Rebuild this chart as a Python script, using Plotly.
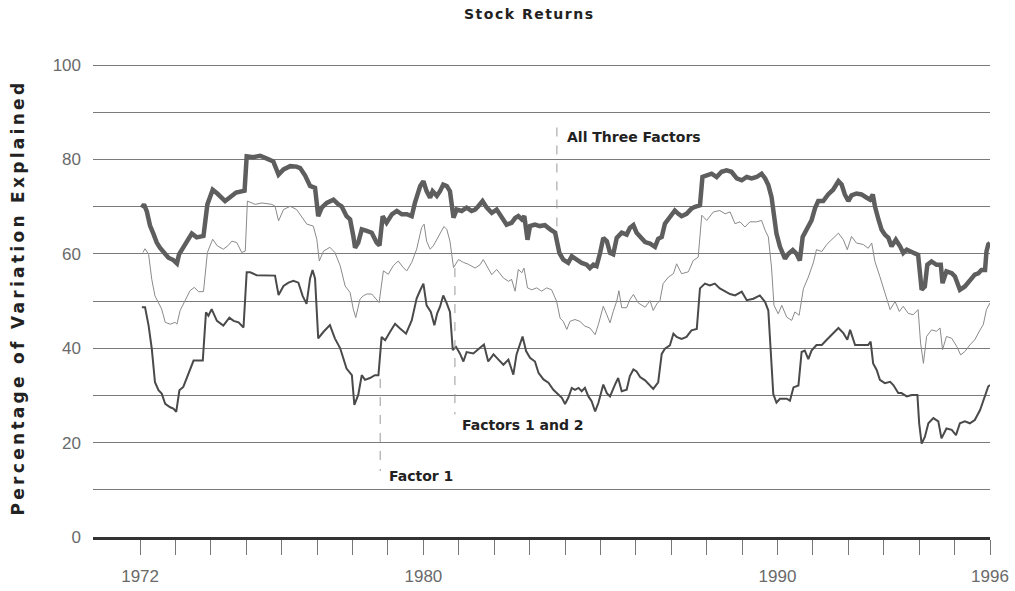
import plotly.graph_objects as go

# ---------------- data ----------------
all_three_years = [1972.05, 1972.11, 1972.19, 1972.28, 1972.38, 1972.47, 1972.56, 1972.66, 1972.80, 1972.94,
    1973.04, 1973.10, 1973.21, 1973.34, 1973.46, 1973.60, 1973.79, 1973.90, 1974.05, 1974.18,
    1974.40, 1974.54, 1974.71, 1974.95, 1975.01, 1975.20, 1975.39, 1975.58, 1975.76, 1975.91,
    1976.05, 1976.24, 1976.42, 1976.52, 1976.66, 1976.80, 1976.94, 1977.03, 1977.13, 1977.27,
    1977.46, 1977.60, 1977.69, 1977.83, 1977.93, 1978.02, 1978.07, 1978.16, 1978.26, 1978.40,
    1978.54, 1978.68, 1978.76, 1978.85, 1978.96, 1979.11, 1979.25, 1979.39, 1979.53, 1979.67,
    1979.76, 1979.91, 1980.00, 1980.09, 1980.19, 1980.26, 1980.38, 1980.47, 1980.56, 1980.66,
    1980.75, 1980.85, 1980.94, 1981.08, 1981.22, 1981.36, 1981.46, 1981.55, 1981.67, 1981.79,
    1981.93, 1982.07, 1982.21, 1982.35, 1982.49, 1982.59, 1982.68, 1982.78, 1982.85, 1982.94,
    1983.01, 1983.15, 1983.29, 1983.43, 1983.58, 1983.72, 1983.84, 1983.95, 1984.09, 1984.19,
    1984.33, 1984.47, 1984.61, 1984.70, 1984.80, 1984.89, 1984.99, 1985.08, 1985.18, 1985.27,
    1985.36, 1985.46, 1985.60, 1985.74, 1985.83, 1985.93, 1986.02, 1986.12, 1986.26, 1986.40,
    1986.54, 1986.63, 1986.73, 1986.82, 1986.96, 1987.10, 1987.20, 1987.29, 1987.43, 1987.57,
    1987.67, 1987.81, 1987.88, 1988.00, 1988.14, 1988.28, 1988.42, 1988.56, 1988.70, 1988.85,
    1988.99, 1989.13, 1989.27, 1989.41, 1989.55, 1989.65, 1989.74, 1989.83, 1989.88, 1989.97,
    1990.07, 1990.21, 1990.30, 1990.43, 1990.54, 1990.63, 1990.71, 1990.82, 1990.96, 1991.06,
    1991.15, 1991.29, 1991.43, 1991.57, 1991.72, 1991.81, 1991.90, 1992.00, 1992.09, 1992.23,
    1992.37, 1992.52, 1992.61, 1992.69, 1992.75, 1992.85, 1992.94, 1993.03, 1993.13, 1993.22,
    1993.34, 1993.46, 1993.55, 1993.65, 1993.74, 1993.85, 1993.97, 1994.04, 1994.07, 1994.16,
    1994.23, 1994.35, 1994.49, 1994.61, 1994.66, 1994.77, 1994.92, 1995.01, 1995.15, 1995.29,
    1995.43, 1995.57, 1995.67, 1995.76, 1995.86, 1995.90, 1995.95, 1996.00]
all_three_vals = [69.8, 70.5, 69.0, 66.0, 64.2, 62.4, 61.3, 60.3, 59.2, 58.7,
    58.0, 59.9, 61.2, 63.0, 64.3, 63.5, 63.8, 70.5, 73.6, 72.8,
    71.2, 72.0, 73.0, 73.4, 80.7, 80.5, 80.8, 80.2, 79.6, 76.8,
    77.9, 78.6, 78.5, 78.2, 76.6, 74.4, 74.0, 68.0, 69.8, 70.8,
    71.5, 70.5, 70.1, 68.0, 67.3, 63.8, 61.3, 62.4, 65.2, 64.9,
    64.5, 62.4, 61.8, 68.0, 66.6, 68.4, 69.1, 68.4, 68.4, 68.0,
    70.8, 74.4, 75.4, 73.3, 71.9, 73.3, 72.3, 73.3, 74.7, 74.4,
    73.3, 67.7, 69.4, 69.1, 69.8, 69.1, 69.4, 70.1, 71.2, 69.8,
    68.7, 69.4, 67.6, 66.2, 66.6, 67.6, 68.0, 67.3, 68.0, 63.0,
    65.9, 66.2, 65.9, 66.1, 65.2, 64.5, 60.2, 58.8, 58.1, 59.5,
    58.8, 58.1, 57.7, 57.0, 57.7, 57.4, 60.2, 63.4, 62.7, 60.2,
    59.9, 63.4, 64.5, 64.1, 65.5, 66.1, 64.5, 63.6, 62.5, 62.2,
    61.5, 63.2, 63.6, 66.4, 67.8, 69.2, 68.5, 68.0, 68.5, 69.6,
    70.0, 70.3, 76.3, 76.7, 77.0, 76.3, 77.4, 77.7, 77.4, 76.0,
    75.6, 76.3, 76.0, 76.3, 77.0, 76.0, 74.6, 72.1, 69.2, 64.3,
    61.5, 59.0, 60.0, 60.8, 60.0, 58.6, 63.6, 65.0, 67.1, 69.7,
    71.2, 71.2, 72.6, 73.6, 75.4, 74.7, 72.6, 71.2, 72.4, 72.8,
    72.6, 71.9, 71.5, 72.6, 70.1, 67.3, 65.1, 64.1, 63.4, 61.6,
    63.0, 61.6, 60.2, 60.9, 60.5, 60.2, 59.8, 55.2, 52.4, 53.1,
    57.7, 58.4, 57.7, 57.7, 53.8, 56.3, 55.9, 55.2, 52.4, 53.1,
    54.5, 55.6, 55.9, 56.6, 56.6, 60.5, 62.0, 62.3]

factors12_years = [1972.08, 1972.14, 1972.24, 1972.33, 1972.42, 1972.52, 1972.61, 1972.71, 1972.85, 1972.99,
    1973.04, 1973.13, 1973.27, 1973.41, 1973.53, 1973.65, 1973.79, 1973.90, 1974.05, 1974.18,
    1974.35, 1974.49, 1974.59, 1974.73, 1974.87, 1974.97, 1975.03, 1975.25, 1975.44, 1975.72,
    1975.81, 1975.91, 1976.05, 1976.24, 1976.42, 1976.71, 1976.89, 1976.99, 1977.06, 1977.18,
    1977.36, 1977.50, 1977.65, 1977.79, 1977.93, 1978.02, 1978.09, 1978.21, 1978.30, 1978.40,
    1978.54, 1978.63, 1978.75, 1978.87, 1979.01, 1979.15, 1979.29, 1979.43, 1979.53, 1979.67,
    1979.81, 1979.95, 1980.02, 1980.09, 1980.19, 1980.28, 1980.39, 1980.49, 1980.58, 1980.66,
    1980.75, 1980.85, 1980.99, 1981.13, 1981.27, 1981.46, 1981.60, 1981.69, 1981.79, 1981.93,
    1982.07, 1982.26, 1982.40, 1982.49, 1982.59, 1982.68, 1982.78, 1982.84, 1982.94, 1983.06,
    1983.20, 1983.34, 1983.48, 1983.62, 1983.76, 1983.86, 1983.95, 1984.05, 1984.14, 1984.28,
    1984.42, 1984.56, 1984.70, 1984.85, 1984.94, 1985.08, 1985.18, 1985.27, 1985.36, 1985.46,
    1985.52, 1985.60, 1985.74, 1985.83, 1985.93, 1986.07, 1986.26, 1986.40, 1986.49, 1986.59,
    1986.68, 1986.77, 1986.92, 1987.06, 1987.15, 1987.29, 1987.48, 1987.62, 1987.76, 1987.86,
    1988.00, 1988.19, 1988.37, 1988.52, 1988.66, 1988.80, 1988.94, 1989.08, 1989.22, 1989.41,
    1989.55, 1989.65, 1989.74, 1989.83, 1989.90, 1990.02, 1990.12, 1990.26, 1990.40, 1990.49,
    1990.61, 1990.73, 1990.87, 1991.01, 1991.10, 1991.25, 1991.39, 1991.53, 1991.72, 1991.86,
    1991.97, 1992.09, 1992.23, 1992.42, 1992.56, 1992.66, 1992.75, 1992.89, 1993.03, 1993.18,
    1993.32, 1993.44, 1993.55, 1993.69, 1993.83, 1993.97, 1994.04, 1994.12, 1994.21, 1994.35,
    1994.49, 1994.59, 1994.66, 1994.77, 1994.92, 1995.06, 1995.17, 1995.29, 1995.43, 1995.57,
    1995.72, 1995.81, 1995.90, 1996.00]
factors12_vals = [60.3, 61.1, 59.9, 54.6, 51.1, 49.7, 48.3, 45.5, 45.1, 45.5,
    45.1, 48.0, 50.1, 52.2, 52.9, 52.0, 52.0, 60.3, 63.1, 61.7,
    61.0, 61.8, 62.7, 62.4, 60.3, 60.6, 71.2, 70.5, 70.8, 70.5,
    70.1, 67.0, 69.4, 70.1, 69.4, 66.3, 65.9, 63.1, 58.5, 60.6,
    61.4, 60.3, 57.5, 53.2, 51.8, 48.3, 46.5, 50.4, 51.1, 51.5,
    51.5, 50.8, 49.7, 56.4, 55.7, 57.5, 58.5, 57.1, 56.4, 58.2,
    61.0, 65.6, 66.3, 62.7, 61.0, 61.7, 63.1, 64.5, 65.8, 65.2,
    62.7, 57.1, 58.8, 58.2, 57.8, 57.0, 57.7, 58.8, 57.4, 55.6,
    56.7, 54.9, 54.2, 54.6, 52.1, 56.7, 56.0, 57.0, 52.8, 52.4,
    52.8, 52.1, 52.8, 52.4, 50.0, 46.4, 45.7, 44.0, 45.7, 46.1,
    45.7, 44.7, 44.3, 42.9, 45.0, 48.9, 47.1, 45.4, 47.8, 50.0,
    52.2, 48.6, 48.6, 50.3, 51.4, 49.6, 48.7, 50.1, 48.0, 49.4,
    50.1, 53.7, 55.1, 55.8, 57.9, 55.8, 56.2, 58.6, 59.3, 68.2,
    67.1, 68.9, 69.2, 68.5, 68.9, 66.4, 66.8, 65.7, 66.8, 66.8,
    67.1, 65.0, 63.6, 57.2, 49.1, 47.3, 49.1, 46.6, 45.9, 47.7,
    47.0, 52.6, 55.1, 58.1, 60.9, 60.5, 62.0, 63.0, 64.4, 63.0,
    60.9, 63.7, 62.3, 62.0, 61.2, 62.3, 58.4, 55.2, 51.7, 48.2,
    49.9, 47.8, 48.9, 47.4, 47.1, 48.2, 41.1, 36.8, 42.5, 43.9,
    43.6, 44.3, 39.7, 42.5, 42.1, 40.4, 38.6, 39.3, 40.7, 41.8,
    43.9, 45.0, 48.2, 49.6]

factor1_years = [1972.05, 1972.14, 1972.24, 1972.33, 1972.42, 1972.52, 1972.61, 1972.71, 1972.85, 1972.94,
    1973.02, 1973.11, 1973.22, 1973.37, 1973.51, 1973.77, 1973.86, 1973.93, 1974.02, 1974.17,
    1974.35, 1974.52, 1974.64, 1974.78, 1974.92, 1975.01, 1975.11, 1975.29, 1975.58, 1975.81,
    1975.91, 1976.05, 1976.19, 1976.33, 1976.47, 1976.59, 1976.70, 1976.80, 1976.87, 1976.94,
    1977.03, 1977.18, 1977.36, 1977.50, 1977.65, 1977.74, 1977.83, 1977.98, 1978.05, 1978.16,
    1978.26, 1978.35, 1978.49, 1978.63, 1978.73, 1978.82, 1978.92, 1979.06, 1979.20, 1979.34,
    1979.51, 1979.67, 1979.81, 1979.91, 1980.00, 1980.09, 1980.21, 1980.31, 1980.39, 1980.47,
    1980.56, 1980.66, 1980.75, 1980.83, 1980.92, 1981.03, 1981.13, 1981.22, 1981.41, 1981.60,
    1981.71, 1981.83, 1981.98, 1982.12, 1982.26, 1982.40, 1982.54, 1982.63, 1982.73, 1982.80,
    1982.90, 1983.01, 1983.15, 1983.25, 1983.39, 1983.53, 1983.67, 1983.81, 1983.91, 1984.00,
    1984.09, 1984.19, 1984.28, 1984.38, 1984.47, 1984.56, 1984.66, 1984.75, 1984.85, 1984.94,
    1985.08, 1985.18, 1985.27, 1985.41, 1985.50, 1985.60, 1985.74, 1985.83, 1985.93, 1986.02,
    1986.12, 1986.26, 1986.35, 1986.49, 1986.63, 1986.73, 1986.82, 1986.96, 1987.06, 1987.15,
    1987.29, 1987.43, 1987.57, 1987.72, 1987.81, 1987.95, 1988.09, 1988.23, 1988.37, 1988.52,
    1988.66, 1988.80, 1988.99, 1989.13, 1989.32, 1989.50, 1989.65, 1989.74, 1989.81, 1989.88,
    1989.97, 1990.07, 1990.26, 1990.35, 1990.45, 1990.59, 1990.68, 1990.77, 1990.87, 1990.96,
    1991.10, 1991.25, 1991.39, 1991.53, 1991.72, 1991.86, 1991.97, 1992.05, 1992.19, 1992.37,
    1992.56, 1992.63, 1992.70, 1992.80, 1992.89, 1993.03, 1993.18, 1993.27, 1993.41, 1993.50,
    1993.65, 1993.79, 1993.95, 1994.00, 1994.07, 1994.16, 1994.26, 1994.40, 1994.54, 1994.63,
    1994.77, 1994.92, 1995.04, 1995.15, 1995.29, 1995.43, 1995.57, 1995.72, 1995.86, 1995.95,
    1996.00]
factor1_vals = [48.7, 48.7, 44.8, 39.9, 32.8, 31.1, 30.4, 28.2, 27.5, 27.2,
    26.5, 31.1, 31.8, 34.6, 37.4, 37.4, 47.6, 46.9, 48.3, 45.8,
    44.8, 46.5, 45.8, 45.5, 44.4, 56.1, 56.1, 55.5, 55.4, 55.4,
    51.3, 53.2, 53.9, 54.3, 53.9, 51.1, 49.4, 54.8, 56.6, 54.8,
    42.1, 43.5, 44.9, 42.1, 40.0, 37.8, 35.7, 34.3, 28.0, 30.1,
    34.3, 33.3, 33.7, 34.3, 34.3, 42.4, 41.7, 43.5, 45.2, 44.2,
    43.1, 45.9, 50.6, 52.3, 53.7, 49.1, 47.7, 44.9, 47.4, 48.8,
    51.2, 49.5, 47.7, 39.6, 40.3, 38.9, 37.2, 39.2, 38.9, 40.1,
    40.8, 37.2, 38.7, 37.6, 36.5, 37.6, 34.4, 38.7, 40.8, 42.5,
    39.4, 38.0, 37.2, 34.8, 33.4, 32.7, 31.2, 30.2, 29.5, 28.2,
    29.5, 31.6, 31.2, 31.6, 30.9, 31.6, 29.8, 28.8, 26.6, 28.4,
    32.3, 30.5, 29.8, 32.3, 33.7, 30.9, 31.2, 34.1, 35.5, 35.1,
    33.9, 33.2, 32.4, 31.4, 32.8, 38.8, 39.9, 40.6, 43.1, 42.4,
    42.0, 42.4, 43.8, 44.1, 52.7, 53.7, 53.3, 53.7, 52.7, 52.0,
    51.5, 51.2, 52.0, 50.2, 50.5, 51.2, 49.8, 48.0, 39.5, 30.3,
    28.5, 29.3, 29.3, 28.9, 31.7, 32.1, 39.2, 39.5, 37.7, 39.5,
    40.7, 40.7, 41.8, 42.8, 44.3, 43.2, 41.8, 43.9, 40.7, 40.7,
    40.7, 41.4, 36.8, 35.4, 33.3, 32.6, 32.9, 32.2, 30.5, 30.5,
    29.8, 30.1, 30.1, 24.1, 19.8, 21.2, 24.1, 25.2, 24.5, 20.9,
    23.0, 22.7, 21.6, 24.1, 24.5, 24.1, 24.8, 26.9, 29.8, 31.9,
    32.2]

year_ticks = list(range(1972, 1997))
year_labels = ["1972", "1980", "1990", "1996"]
y_ticks = list(range(0, 101, 10))
y_labels = ["0", "20", "40", "60", "80", "100"]

series_names = ["All Three Factors", "Factors 1 and 2", "Factor 1"]

# ---------------- figure ----------------
fig = go.Figure()
fig.add_trace(go.Scatter(x=factors12_years, y=factors12_vals, mode="lines", name=series_names[1],
                         line=dict(color="#8a8a8a", width=1)))
fig.add_trace(go.Scatter(x=factor1_years, y=factor1_vals, mode="lines", name=series_names[2],
                         line=dict(color="#4a4a4a", width=2)))
fig.add_trace(go.Scatter(x=all_three_years, y=all_three_vals, mode="lines", name=series_names[0],
                         line=dict(color="#5e5e5e", width=4.5)))

x_text = [str(y) if str(y) in year_labels else "" for y in year_ticks]
y_text = [str(v) if str(v) in y_labels else "" for v in y_ticks]

tick_font = dict(family="Liberation Sans, Arial, sans-serif", size=17, color="#6a6a6a")
bold_font = "DejaVu Sans, Liberation Sans, Arial, sans-serif"

fig.update_layout(
    width=1015, height=591,
    margin=dict(l=93, r=25, t=64, b=54, autoexpand=False),
    paper_bgcolor="white", plot_bgcolor="white",
    showlegend=False,
    xaxis=dict(range=[1970.67, 1996.0], tickvals=year_ticks, ticktext=x_text,
               ticks="outside", ticklen=15, tickwidth=1, tickcolor="#777",
               showgrid=False, zeroline=False, showline=True, linewidth=3, linecolor="#333",
               tickfont=tick_font, ticklabelstandoff=7, automargin=False),
    yaxis=dict(range=[0, 100.25], tickvals=y_ticks, ticktext=y_text,
               showgrid=True, gridcolor="#7a7a7a", gridwidth=1, zeroline=False,
               showline=False, ticks="", tickfont=tick_font, ticklabelstandoff=11,
               automargin=False),
)

# title
fig.add_annotation(text='<b><span style="letter-spacing:1.5px">Stock Returns</span></b>',
                   xref="paper", yref="paper", x=(529 - 93) / 897, y=(537 - 15) / 472,
                   showarrow=False, xanchor="center", yanchor="middle",
                   font=dict(family=bold_font, size=14, color="#222"))
# y-axis title
fig.add_annotation(text='<b><span style="letter-spacing:3.3px">Percentage of Variation Explained</span></b>',
                   xref="paper", yref="paper", x=(18 - 93) / 897, y=(537 - 298) / 472,
                   showarrow=False, textangle=-90, xanchor="center", yanchor="middle",
                   font=dict(family=bold_font, size=17, color="#222"))

# series labels with dashed leaders
labels = [
    (series_names[0], 1984.0, 84.7, 1983.77, 86.8, 65.0),
    (series_names[1], 1981.03, 23.7, 1980.89, 57.0, 26.0),
    (series_names[2], 1978.97, 12.9, 1978.78, 33.5, 14.0),
]
for txt, tx, ty, lx, ly0, ly1 in labels:
    fig.add_annotation(text="<b>" + txt + "</b>", x=tx, y=ty, xref="x", yref="y",
                       showarrow=False, xanchor="left", yanchor="middle",
                       font=dict(family=bold_font, size=14, color="#222"))
    fig.add_shape(type="line", x0=lx, x1=lx, y0=ly0, y1=ly1, xref="x", yref="y",
                  line=dict(color="#999", width=1, dash="dash"))

fig.write_html("out.html", config={"displayModeBar": False},
               post_script="document.body.style.margin='0px';document.body.style.overflow='hidden';")
